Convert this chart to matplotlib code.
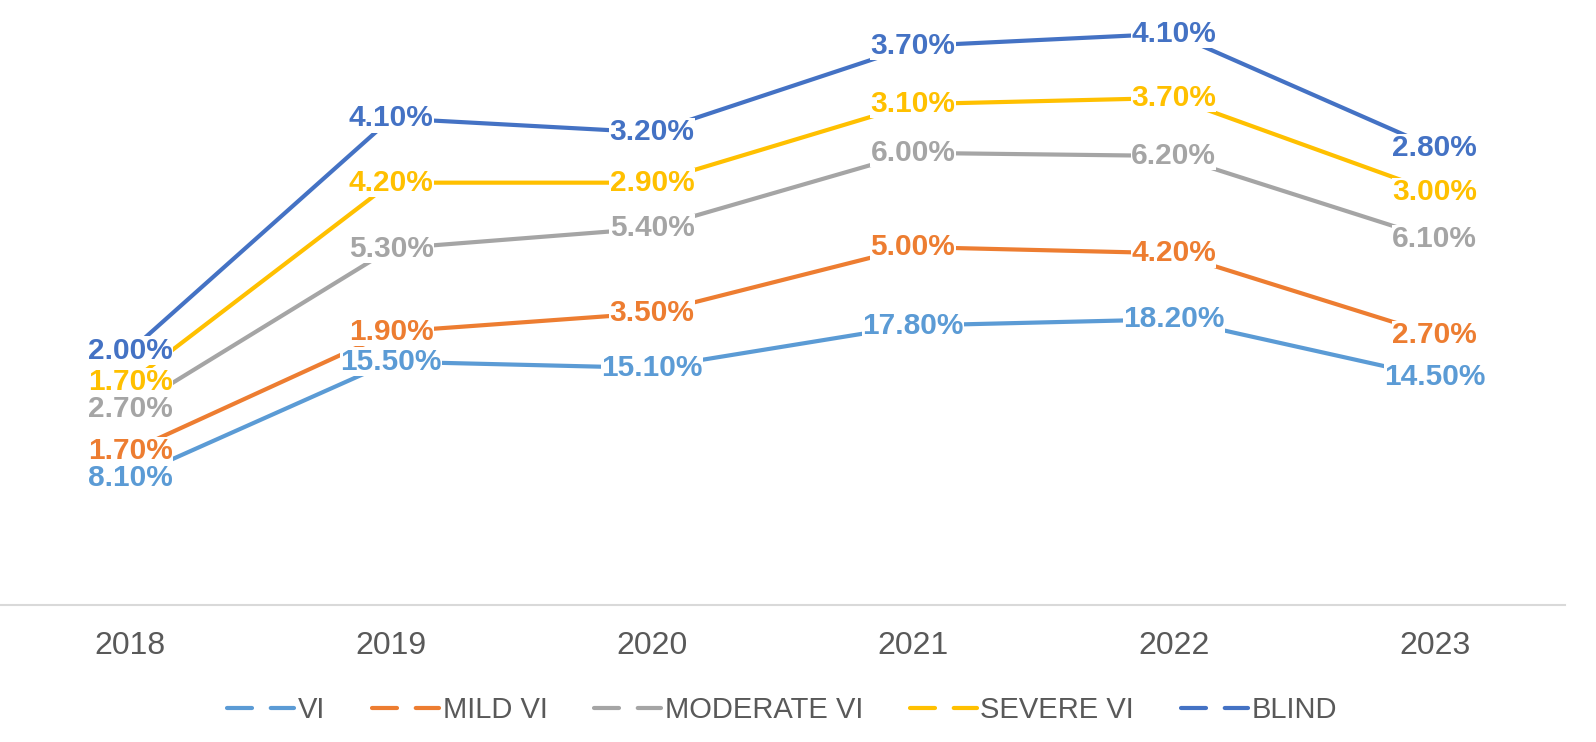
import numpy as np
import matplotlib.pyplot as plt
from matplotlib.lines import Line2D

years = ['2018', '2019', '2020', '2021', '2022', '2023']
vi = [8.1, 15.5, 15.1, 17.8, 18.2, 14.5]
mild_vi = [1.7, 1.9, 3.5, 5.0, 4.2, 2.7]
moderate_vi = [2.7, 5.3, 5.4, 6.0, 6.2, 6.1]
severe_vi = [1.7, 4.2, 2.9, 3.1, 3.7, 3.0]
blind = [2.0, 4.1, 3.2, 3.7, 4.1, 2.8]

series_names = ['VI', 'MILD VI', 'MODERATE VI', 'SEVERE VI', 'BLIND']
colors = ['#5B9BD5', '#ED7D31', '#A5A5A5', '#FFC000', '#4472C4']

plt.rcParams['font.family'] = ['Liberation Sans', 'DejaVu Sans']

fig = plt.figure(figsize=(15.96, 7.42), dpi=100)
ax = fig.add_axes([0.0, (742 - 605) / 742, 1565 / 1596, 605 / 742])

x = np.arange(len(years))
# stacked line chart: each line sits on top of the previous ones
stack = np.zeros(len(years))
for vals, name, c in zip([vi, mild_vi, moderate_vi, severe_vi, blind], series_names, colors):
    stack = stack + np.array(vals)
    ax.plot(x, stack, color=c, lw=3, zorder=2, solid_capstyle='butt')
    for xi, yi, v in zip(x, stack, vals):
        ax.text(xi, yi, f'{v:.2f}%', color=c, fontsize=21.5, fontweight='bold',
                ha='center', va='center', zorder=3,
                bbox=dict(facecolor='white', edgecolor='none', pad=0.3))

ax.set_xlim(-0.5, len(years) - 0.5)
ax.set_ylim(0, 605 / 15.7)
ax.set_xticks(x)
ax.set_xticklabels(years, fontsize=23, color='#595959')
ax.tick_params(axis='x', length=0, pad=19)
ax.set_yticks([])
for s in ['left', 'right', 'top']:
    ax.spines[s].set_visible(False)
ax.spines['bottom'].set_color('#D9D9D9')
ax.spines['bottom'].set_linewidth(1.5)

handles = [Line2D([0], [0], color=c, lw=3, linestyle=(0, (6, 4.5)), dash_capstyle='round')
           for c in colors]
leg = fig.legend(handles, series_names, loc='center', bbox_to_anchor=(0.49, 0.043),
                 ncol=5, frameon=False, fontsize=21, handlelength=2.3,
                 handletextpad=0.12, columnspacing=1.6, labelcolor='#595959')

fig.savefig('out.png', dpi=100)
